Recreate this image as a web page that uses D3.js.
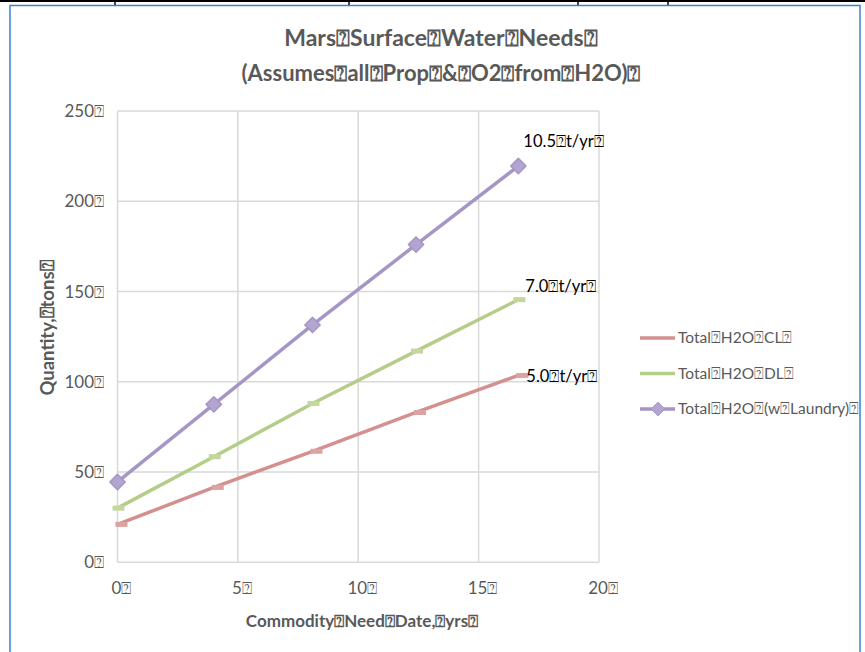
<!DOCTYPE html>
<html><head><meta charset="utf-8">
<script src="https://cdn.jsdelivr.net/npm/d3@7"></script>
<style>
html,body{margin:0;padding:0;background:#fff;}
svg{display:block;font-family:Lato,"Open Sans",sans-serif;}
</style></head>
<body>
<svg id="c" width="865" height="652"></svg>
<script>
const BOX = "\u2370";
const years = [0, 4.0, 8.1, 12.4, 16.65];
const totalCL = [21, 41.5, 61.5, 83, 103.5];
const totalDL = [30, 58.5, 88, 117, 145.5];
const totalLaundry = [44.5, 87.5, 131.5, 176, 219.5];
const seriesNames = ["Total"+BOX+"H2O"+BOX+"CL"+BOX, "Total"+BOX+"H2O"+BOX+"DL"+BOX, "Total"+BOX+"H2O"+BOX+"(w"+BOX+"Laundry)"+BOX];
const rateLabels = ["5.0"+BOX+"t/yr"+BOX, "7.0"+BOX+"t/yr"+BOX, "10.5"+BOX+"t/yr"+BOX];
const xTicks = [0, 5, 10, 15, 20];
const yTicks = [0, 50, 100, 150, 200, 250];
const titleLines = ["Mars"+BOX+"Surface"+BOX+"Water"+BOX+"Needs"+BOX, "(Assumes"+BOX+"all"+BOX+"Prop"+BOX+"&"+BOX+"O2"+BOX+"from"+BOX+"H2O)"+BOX];
const xTitle = "Commodity"+BOX+"Need"+BOX+"Date,"+BOX+"yrs"+BOX;
const yTitle = "Quantity,"+BOX+"tons"+BOX;

const colors = ["#d4908e", "#b4cd88", "#a596c5"];
const markerFill = ["#dba3a1", "#c3d79e", "#b2a5cf"];

const svg = d3.select("#c");
// frame
svg.append("line").attr("x1",0).attr("x2",865).attr("y1",1).attr("y2",1).attr("stroke","#000").attr("stroke-width",2);
[115,349,578,668].forEach(x=>svg.append("line").attr("x1",x).attr("x2",x).attr("y1",0).attr("y2",6).attr("stroke","#000").attr("stroke-width",1.5));
svg.append("rect").attr("x",10).attr("y",5.5).attr("width",850).attr("height",660).attr("fill","none").attr("stroke","#3f7fcf").attr("stroke-width",1.5);

const x = d3.scaleLinear().domain([0,20]).range([117.5,599]);
const y = d3.scaleLinear().domain([0,250]).range([562.3,111]);

// grid
const g = svg.append("g");
g.selectAll("line.h").data(yTicks).join("line")
  .attr("x1",x(0)).attr("x2",x(20)).attr("y1",d=>y(d)).attr("y2",d=>y(d))
  .attr("stroke","#d9d9d9").attr("stroke-width",1.5);
g.selectAll("line.v").data(xTicks).join("line")
  .attr("y1",y(0)).attr("y2",y(250)).attr("x1",d=>x(d)).attr("x2",d=>x(d))
  .attr("stroke","#d9d9d9").attr("stroke-width",1.5);

// tick labels
svg.append("g").selectAll("text").data(yTicks).join("text")
  .attr("x",104).attr("y",d=>y(d)+6).attr("text-anchor","end")
  .attr("font-size",17).attr("fill","#595959").text(d=>d+BOX);
svg.append("g").selectAll("text").data(xTicks).join("text")
  .attr("x",d=>x(d)+4).attr("y",594).attr("text-anchor","middle")
  .attr("font-size",17).attr("fill","#595959").text(d=>d+BOX);

// titles
svg.append("g").selectAll("text").data(titleLines).join("text")
  .attr("x",441).attr("y",(d,i)=>46+i*35).attr("text-anchor","middle")
  .attr("font-size",(d,i)=>i===0?23:22).attr("font-weight","bold").attr("fill","#595959").text(d=>d);
svg.append("text").attr("x",362).attr("y",627).attr("text-anchor","middle")
  .attr("font-size",17).attr("font-weight","bold").attr("fill","#595959").text(xTitle);
svg.append("text").attr("transform","translate(54,328) rotate(-90)").attr("text-anchor","middle")
  .attr("font-size",18.5).attr("font-weight","bold").attr("fill","#595959").text(yTitle);

// series
const series = [totalCL, totalDL, totalLaundry];
const line = d3.line().x((d,i)=>x(years[i])).y(d=>y(d));
series.forEach((vals,si)=>{
  svg.append("path").datum(vals).attr("d",line).attr("fill","none")
    .attr("stroke",colors[si]).attr("stroke-width",3.5).attr("stroke-linecap","round");
  const m = svg.append("g");
  vals.forEach((v,i)=>{
    const cx = x(years[i]), cy = y(v);
    if(si<2){
      m.append("rect").attr("x",cx-5+(si===0?3:0)).attr("y",cy-2.5).attr("width",12).attr("height",5)
        .attr("fill",markerFill[si]);
    } else {
      m.append("path").attr("d",d3.symbol().type(d3.symbolDiamond2).size(150)())
        .attr("transform",`translate(${cx},${cy})`).attr("fill",markerFill[si])
        .attr("stroke",colors[si]).attr("stroke-width",1.5).attr("stroke-linejoin","round");
    }
  });
});

// rate labels
const lastI = years.length-1;
const lblOff = [[8,7],[7,-8],[5,-19]];
series.forEach((vals,si)=>{
  svg.append("text").attr("x",x(years[lastI])+lblOff[si][0]).attr("y",y(vals[lastI])+lblOff[si][1])
    .attr("font-size",16.5).attr("fill","#000").text(rateLabels[si]);
});

// legend
const leg = svg.append("g").attr("transform","translate(640,338)");
seriesNames.forEach((n,i)=>{
  const gy = i*35.5;
  leg.append("line").attr("x1",0).attr("x2",35).attr("y1",gy).attr("y2",gy)
    .attr("stroke",colors[i]).attr("stroke-width",3.5);
  if(i===2){
    leg.append("path").attr("d",d3.symbol().type(d3.symbolDiamond2).size(120)())
      .attr("transform",`translate(18,${gy})`).attr("fill",markerFill[i]).attr("stroke",colors[i]);
  }
  leg.append("text").attr("x",38).attr("y",gy+5).attr("font-size",15.5).attr("fill","#595959").text(n);
});
</script>
</body></html>
